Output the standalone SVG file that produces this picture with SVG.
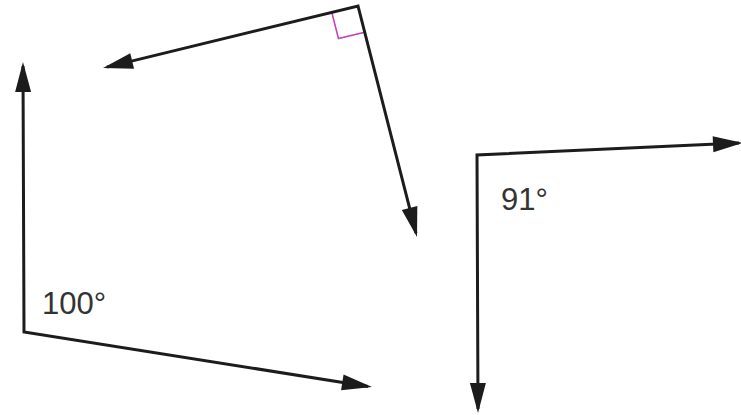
<svg xmlns="http://www.w3.org/2000/svg" width="741" height="415" viewBox="0 0 741 415">
<defs>
<marker id="ah" markerUnits="userSpaceOnUse" orient="auto-start-reverse" refX="26" refY="0" markerWidth="40" markerHeight="20" overflow="visible">
<path d="M0,-8 L30,0 L0,8 z" fill="#1c1c1c"/>
</marker>
<style>
.arm{fill:none;stroke:#1c1c1c;stroke-width:3;stroke-linejoin:miter;marker-start:url(#ah);marker-end:url(#ah)}
.ra{fill:none;stroke:#c040c0;stroke-width:1.6}
.lbl{font-family:"Liberation Sans",Arial,sans-serif;font-size:31px;fill:#333}
</style>
</defs>
<rect width="741" height="415" fill="#fff"/>
<g id="angle-right">
<path class="ra" d="M331.8,12.4 L338.5,38.6 L364.7,32.2"/>
<path class="arm" d="M106.9,67.1 L358,6 L416,233.1"/>
</g>
<g id="angle-100">
<path class="arm" d="M23,66 L24,332 L368,386.4"/>
<text class="lbl" x="42" y="314">100°</text>
</g>
<g id="angle-91">
<path class="arm" d="M739,143 L477,155 L478,409"/>
<text class="lbl" x="501" y="210">91°</text>
</g>
</svg>
